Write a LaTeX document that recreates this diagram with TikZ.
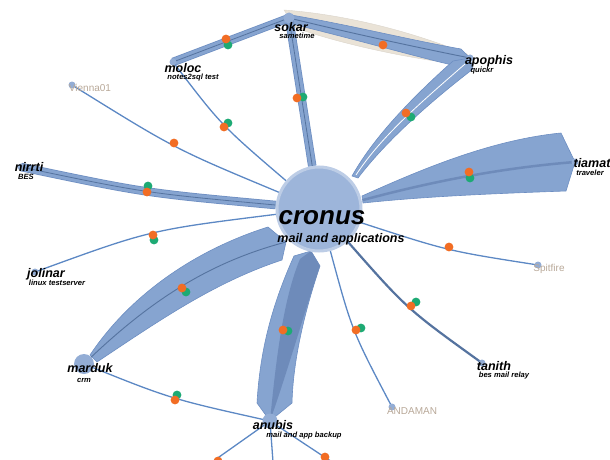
\documentclass[tikz,border=0pt]{standalone}
\usepackage{fontspec}
\setmainfont{Liberation Sans}
\usetikzlibrary{backgrounds}

\definecolor{linkblue}{HTML}{5C88C4}
\definecolor{tubeblue}{HTML}{86A4D0}
\definecolor{tubeedge}{HTML}{6D8EC2}
\definecolor{tubecore}{HTML}{55739F}
\definecolor{wedgedark}{HTML}{6E8BBA}
\definecolor{knobblue}{HTML}{93ADD5}
\definecolor{hubfill}{HTML}{9DB5DA}
\definecolor{hubring}{HTML}{BDCDE6}
\definecolor{sparetan}{HTML}{B8A898}
\definecolor{beige}{HTML}{EAE3D7}
\definecolor{dotorange}{HTML}{F26D24}
\definecolor{dotgreen}{HTML}{1DAA74}

\begin{document}
\begin{tikzpicture}[x=1pt, y=-1pt,
        hub/.style={circle, fill=hubfill, draw=hubring, line width=3pt, minimum size=84pt, inner sep=0pt},
        knob/.style={circle, fill=knobblue, inner sep=0pt, minimum size=7pt},
        hostname/.style={font=\bfseries\itshape\fontsize{12.5}{13}\selectfont, inner sep=0pt},
        hostnote/.style={font=\bfseries\itshape\fontsize{7.6}{8}\selectfont, inner sep=0pt},
        spare/.style={font=\fontsize{10}{11}\selectfont, text=sparetan, inner sep=0pt},
        link/.style={draw=linkblue, line width=1.3pt},
        tube/.style={draw=tubecore, line width=0.8pt,
            preaction={draw=tubeedge, line width=8.5pt},
            preaction={draw=tubeblue, line width=7pt}},
        wedge/.style={fill=tubeblue, draw=tubeedge, line width=0.6pt},
        core/.style={draw=tubecore, line width=0.9pt}
    ]
    \useasboundingbox (0,0) rectangle (610,460);

    % hosts
    \node[hub] (cronus) at (319,209) {};
    \node[knob, minimum size=11pt] (sokar) at (289,18) {};
    \node[knob] (moloc) at (173,62) {};
    \node[knob] (apophis) at (470,58) {};
    \node[knob] (vienna) at (72,85) {};
    \node[knob] (nirrti) at (21,167) {};
    \node[knob] (jolinar) at (35,272) {};
    \node[knob, minimum size=20pt] (marduk) at (84,364) {};
    \node[knob, minimum size=15pt] (anubis) at (270,421) {};
    \node[knob] (tiamat) at (575,162) {};
    \node[knob] (spitfire) at (538,265) {};
    \node[knob] (tanith) at (482,363) {};
    \node[knob] (andaman) at (392,407) {};
    \coordinate (down1) at (212,462);
    \coordinate (down2) at (273,462);
    \coordinate (down3) at (332,462);

    \begin{scope}[on background layer]
        % sokar -> apophis
        \fill[beige, draw=beige!85!gray, line width=0.4pt] (284,10) .. controls (350,15) and (415,33) .. (467,54) -- (471,61) -- (465,65) .. controls (420,60) and (350,47) .. (296,28) -- cycle;
        \filldraw[wedge] (291,15) .. controls (350,25) and (410,40) .. (461,49) -- (apophis.center) -- (452,65) .. controls (410,55) and (350,38) .. (292,24) -- cycle;
        \draw[core] (sokar.center) .. controls (350,33) and (420,48) .. (apophis.center);

        % cronus -> apophis
        \filldraw[wedge] (352,176) .. controls (375,135) and (415,95) .. (453,61) -- (apophis.center) -- (473,69) .. controls (430,102) and (386,141) .. (358,178) -- cycle;
        \draw[white, line width=0.8pt] (356,175) .. controls (382,135) and (425,99) .. (465,64);

        % cronus -> tiamat
        \filldraw[wedge] (362,196) .. controls (420,170) and (490,140) .. (561,133) -- (tiamat.center) -- (566,191) .. controls (480,194) and (420,197) .. (363,203) -- cycle;
        \draw[wedgedark, line width=2.5pt] (363,200) .. controls (430,182) and (500,168) .. (tiamat.center);

        % marduk -> cronus
        \filldraw[wedge] (90,355) .. controls (130,295) and (195,250) .. (268,227) -- (286,242) -- (282,260) .. controls (215,282) and (160,320) .. (97,362) -- cycle;
        \draw[core] (marduk.center) .. controls (150,300) and (210,262) .. (286,242);

        % anubis <-> cronus
        \filldraw[wedge] (294,256) -- (311,251) -- (320,266) .. controls (305,310) and (293,360) .. (292,403) -- (anubis.center) -- (257,403) .. controls (260,350) and (272,305) .. (294,256) -- cycle;
        \fill[wedgedark] (300,259) -- (311,251) -- (320,266) .. controls (305,310) and (288,370) .. (anubis.center) .. controls (276,360) and (283,300) .. (300,259) -- cycle;

        % tubes
        \draw[tube] (sokar.center) -- (cronus);
        \draw[tube] (moloc.center) -- (sokar.center);
        \draw[tube] (nirrti.center) .. controls (145,193) .. (cronus);

        % thin links
        \draw[link] (vienna.center) .. controls (175,149) .. (cronus);
        \draw[link] (moloc.center) .. controls (221,125) .. (cronus);
        \draw[link] (jolinar.center) .. controls (150,230) .. (cronus);
        \draw[link] (cronus) .. controls (448,251) .. (spitfire.center);
        \draw[link, draw=tubecore, line width=2.2pt] (cronus) .. controls (407,309) .. (tanith.center);
        \draw[link] (cronus) .. controls (352,331) .. (andaman.center);
        \draw[link] (marduk.center) .. controls (171,399) .. (anubis.center);
        \draw[link] (anubis.center) -- (down1);
        \draw[link] (anubis.center) -- (down2);
        \draw[link] (anubis.center) -- (down3);
    \end{scope}

    % markers
    \foreach \x/\y in {303/97, 228/45, 411/117, 470/178, 416/302, 361/328, 288/331, 186/292, 154/240, 148/186, 228/123, 177/395}
        \fill[dotgreen] (\x,\y) circle (4.4);
    \foreach \x/\y in {297/98, 226/39, 383/45, 406/113, 469/172, 449/247, 411/306, 356/330, 283/330, 182/288, 153/235, 147/192, 174/143, 224/127, 175/400, 218/461, 325/457}
        \fill[dotorange] (\x,\y) circle (4.4);

    % labels
    \node[font=\bfseries\itshape\fontsize{26}{28}\selectfont, inner sep=0pt] (cronus-name) at (322,218) {cronus};
    \node[font=\bfseries\itshape\fontsize{12.5}{13}\selectfont, inner sep=0pt] (cronus-note) at (341,239) {mail and applications};
    \node[hostname] (sokar-name) at (291,27) {sokar};
    \node[hostnote] (sokar-note) at (297,36) {sametime};
    \node[hostname] (moloc-name) at (183,68) {moloc};
    \node[hostnote] (moloc-note) at (193,78) {notes2sql test};
    \node[hostname] (apophis-name) at (489,61) {apophis};
    \node[hostnote] (apophis-note) at (482,71) {quickr};
    \node[hostname] (nirrti-name) at (29,167) {nirrti};
    \node[hostnote] (nirrti-note) at (26,177) {BES};
    \node[hostname] (jolinar-name) at (46,274) {jolinar};
    \node[hostnote] (jolinar-note) at (57,283) {linux testserver};
    \node[hostname] (marduk-name) at (90,368) {marduk};
    \node[hostnote] (marduk-note) at (84,380) {crm};
    \node[hostname] (anubis-name) at (273,425) {anubis};
    \node[hostnote] (anubis-note) at (304,436) {mail and app backup};
    \node[hostname] (tiamat-name) at (592,163) {tiamat};
    \node[hostnote] (tiamat-note) at (590,173) {traveler};
    \node[hostname] (tanith-name) at (494,366) {tanith};
    \node[hostnote] (tanith-note) at (504,376) {bes mail relay};
    \node[spare] (vienna-name) at (90,88) {Vienna01};
    \node[spare] (spitfire-name) at (549,269) {Spitfire};
    \node[spare] (andaman-name) at (412,411) {ANDAMAN};
\end{tikzpicture}
\end{document}
